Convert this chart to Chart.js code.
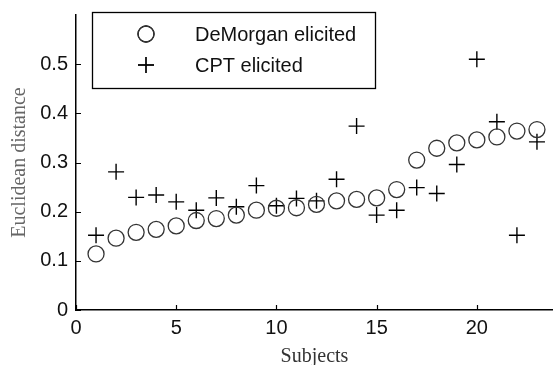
<!DOCTYPE html>
<html lang="en">
<head>
<meta charset="UTF-8">
<title>Euclidean distance by subject</title>
<script src="https://cdn.jsdelivr.net/npm/chart.js"></script>
<style>
  html, body { margin: 0; padding: 0; background: #fff; }
  #wrap { width: 553px; height: 365px; }
</style>
</head>
<body>
<div id="wrap"><canvas id="chart"></canvas></div>
<script>
// data
const subjects = [1, 2, 3, 4, 5, 6, 7, 8, 9, 10, 11, 12, 13, 14, 15, 16, 17, 18, 19, 20, 21, 22, 23];
const deMorgan = [0.114, 0.146, 0.158, 0.164, 0.171, 0.182, 0.186, 0.193, 0.203, 0.207, 0.208, 0.215,
                  0.222, 0.225, 0.228, 0.245, 0.305, 0.329, 0.340, 0.346, 0.352, 0.364, 0.367];
const cpt = [0.152, 0.281, 0.229, 0.234, 0.220, 0.203, 0.228, 0.210, 0.253, 0.212, 0.227, 0.222,
             0.266, 0.374, 0.193, 0.203, 0.249, 0.237, 0.296, 0.510, 0.383, 0.152, 0.342];
const xTicks = [0, 5, 10, 15, 20];
const yTicks = [0, 0.1, 0.2, 0.3, 0.4, 0.5];

const toPoints = ys => subjects.map((s, i) => ({ x: s, y: ys[i] }));

// inward tick marks, matlab style
const innerTicks = {
    id: "innerTicks",
    afterDatasetsDraw(chart) {
        const ctx = chart.ctx, a = chart.chartArea;
        const xs = chart.scales.x, ys = chart.scales.y;
        ctx.save();
        ctx.strokeStyle = "#000";
        ctx.lineWidth = 1.2;
        ctx.beginPath();
        xTicks.forEach(v => {
            const px = Math.round(xs.getPixelForValue(v)) + 0.5;
            ctx.moveTo(px, a.bottom);
            ctx.lineTo(px, a.bottom - 5);
        });
        yTicks.forEach(v => {
            const py = Math.round(ys.getPixelForValue(v)) + 0.5;
            ctx.moveTo(a.left, py);
            ctx.lineTo(a.left + 5, py);
        });
        ctx.stroke();
        ctx.restore();
    }
};

// boxed legend
const boxLegend = {
    id: "boxLegend",
    afterDraw(chart) {
        const ctx = chart.ctx;
        ctx.save();
        ctx.strokeStyle = "#000";
        ctx.lineWidth = 1.3;
        ctx.fillStyle = "#fff";
        ctx.fillRect(92, 12, 283, 76);
        ctx.strokeRect(92.5, 12.5, 283, 76);
        ctx.font = "20px 'Liberation Sans', Arial, sans-serif";
        ctx.textBaseline = "middle";
        chart.data.datasets.forEach((ds, i) => {
            const y = 34 + i * 31;
            Chart.helpers.drawPoint(ctx, {
                pointStyle: ds.pointStyle, radius: ds.pointRadius, borderWidth: ds.borderWidth
            }, 146, y);
            ctx.strokeStyle = ds.borderColor;
            ctx.lineWidth = ds.borderWidth;
            ctx.stroke();
            ctx.fillStyle = "#111";
            ctx.fillText(ds.label, 195, y + 1);
        });
        ctx.restore();
    }
};

new Chart(document.getElementById("chart"), {
    type: "scatter",
    data: {
        datasets: [
            {
                label: "DeMorgan elicited",
                data: toPoints(deMorgan),
                pointStyle: "circle",
                pointRadius: 8,
                borderColor: "#333",
                backgroundColor: "rgba(0,0,0,0)",
                borderWidth: 1.3
            },
            {
                label: "CPT elicited",
                data: toPoints(cpt),
                pointStyle: "cross",
                pointRadius: 8,
                borderColor: "#000",
                backgroundColor: "#000",
                borderWidth: 1.4
            }
        ]
    },
    options: {
        responsive: true,
        maintainAspectRatio: false,
        animation: false,
        layout: { autoPadding: false, padding: { top: 15, right: 0, left: 0, bottom: 0 } },
        plugins: {
            legend: { display: false },
            tooltip: { enabled: false }
        },
        scales: {
            x: {
                type: "linear",
                min: 0,
                max: 23.8,
                afterBuildTicks: s => { s.ticks = xTicks.map(v => ({ value: v })); },
                afterFit: s => { s.height = 55; s.paddingRight = 0; s.paddingLeft = 0; },
                grid: { display: true, drawOnChartArea: false, drawTicks: false },
                border: { color: "#000", width: 1.5 },
                ticks: {
                    color: "#111",
                    padding: 6,
                    maxRotation: 0,
                    font: { family: "'Liberation Sans', Arial, sans-serif", size: 20 }
                },
                title: {
                    display: true,
                    text: "Subjects",
                    color: "#333",
                    padding: { top: 0, bottom: -4 },
                    font: { family: "'Liberation Serif', 'Times New Roman', serif", size: 20 }
                }
            },
            y: {
                type: "linear",
                min: 0,
                max: 0.6,
                afterBuildTicks: s => { s.ticks = yTicks.map(v => ({ value: v })); },
                afterFit: s => { s.width = 76; s.paddingTop = 0; s.paddingBottom = 0; },
                grid: { display: true, drawOnChartArea: false, drawTicks: false },
                border: { color: "#000", width: 1.5 },
                ticks: {
                    color: "#111",
                    padding: 8,
                    font: { family: "'Liberation Sans', Arial, sans-serif", size: 20 },
                    callback: v => String(v)
                },
                title: {
                    display: true,
                    text: "Euclidean distance",
                    color: "#666",
                    padding: { top: 8, bottom: 0 },
                    font: { family: "'Liberation Serif', 'Times New Roman', serif", size: 20 }
                }
            }
        }
    },
    plugins: [innerTicks, boxLegend]
});
</script>
</body>
</html>
